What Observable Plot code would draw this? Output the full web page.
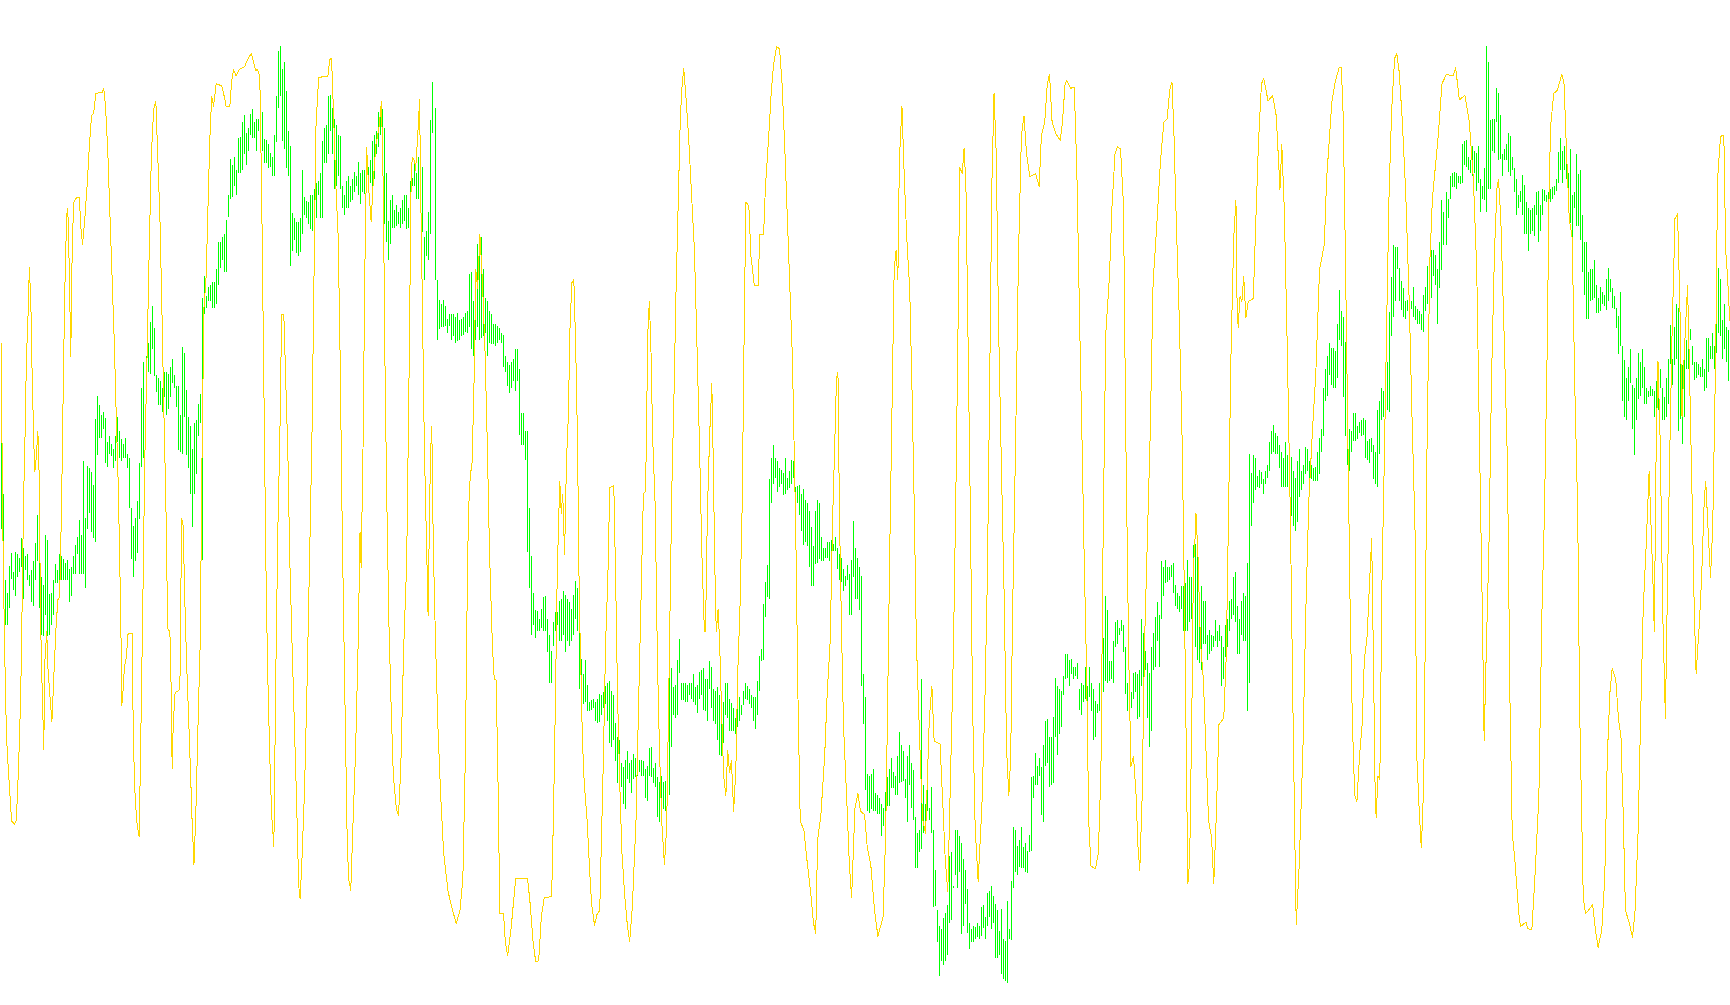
<!DOCTYPE html>
<html><head><meta charset="utf-8">
<style>html,body{margin:0;padding:0;background:#fff}svg{display:block}</style>
<script src="https://cdn.jsdelivr.net/npm/d3@7"></script>
<script src="https://cdn.jsdelivr.net/npm/@observablehq/plot@0.6"></script>
</head><body><div id="chart"></div>
<script>
// Values, in an arbitrary "depth" unit (0 top .. 1568 bottom).
const barsA=[[620,825],[770,940],[905,975],[925,975],[883,948],[863,903],[893,920],[862,930],[865,900],[870,893],[840,885],[855,935],[868,890],[865,905],[897,915],[890,940],[875,945],[847,905],[803,875],[855,948],[900,990],[913,993],[835,960],[842,993],[927,990],[925,975],[905,960],[880,910],[890,910],[865,910],[868,905],[872,905],[878,905],[873,905],[888,940],[885,930],[868,895],[850,895],[838,865],[812,895],[835,895],[720,895],[808,917],[727,825],[730,800],[737,830],[757,840],[653,845],[618,710],[632,683],[648,683],[643,670],[652,722],[690,728],[680,708],[692,712],[700,730],[680,720],[650,690],[672,715],[685,720],[692,715],[683,715],[708,730],[715,793],[793,872],[820,900],[808,875],[782,863],[722,810],[605,728],[565,715],[555,620],[535,580],[503,583],[478,545],[512,587],[585,612],[590,632],[595,632],[605,643],[580,620],[580,648],[583,638],[573,620],[560,598],[585,605],[603,635],[603,702],[647,705],[542,708],[550,650],[608,710],[650,730],[665,770],[700,823],[660,770],[655,740],[630,680],[615,660],[465,873],[430,490],[462,480],[448,470],[445,470],[440,480],[440,480],[420,475],[378,445],[378,418],[370,405],[365,425],[343,425],[305,338],[248,310],[257,307],[245,290],[265,305],[215,270],[213,270],[190,265],[180,240],[208,258],[200,235],[178,210],[170,215],[190,215],[185,235],[185,205],[183,200],[175,235],[217,255],[218,255],[225,262],[238,260],[245,275],[210,275],[150,222],[80,168],[72,150],[108,220],[97,233],[142,262],[205,275],[228,415],[332,392],[340,375],[347,395],[347,400],[340,393],[265,365],[307,335],[313,340],[315,350],[305,357],[305,360],[295,370],[285,340],[283,305],[270,340],[220,340],[200,255],[195,255],[150,240],[148,205],[168,240],[185,295],[195,290],[210,275],[212,295],[290,325],[305,335],[283,325],[275,325],[290,315],[280,312],[268,300],[275,290],[253,305],[270,318],[265,300],[265,302],[230,290],[260,300],[250,285],[220,300],[210,280],[205,240],[175,230],[165,210],[170,240],[200,350],[270,378],[345,405],[312,380],[305,355],[328,355],[320,352],[330,350],[325,355],[312,350],[305,345],[305,358],[325,355],[282,350],[278,290],[250,290],[270,310],[245,310],[247,320],[260,362],[370,437],[360,400],[330,405],[188,365],[128,208],[168,437],[437,530],[468,513],[475,510],[468,510],[478,508],[497,520],[490,508],[490,530],[490,525],[495,535],[488,532],[500,530],[498,525],[495,522],[488,518],[485,520],[427,510],[425,545],[470,555],[440,530],[380,510],[378,530],[370,528],[420,525],[465,520],[470,555],[485,535],[490,537],[505,537],[505,540],[508,535],[512,530],[520,535],[523,573],[555,580],[565,603],[570,613],[565,605],[560,595],[545,610],[545,595],[575,678],[645,695],[645,695],[672,718],[672,862],[793,917],[867,990],[925,975],[952,995],[953,985],[965,985],[950,980],[932,985],[930,985],[965,1018],[990,1065],[1015,1065],[970,1008],[955,985],[955,975],[938,1000],[935,1000],[922,990],[928,1018],[935,1000],[940,1008],[950,1000],[928,990],[907,965],[918,985],[938,1075]];
const barsB=[[1028,1078],[1052,1098],[1030,1095],[1068,1110],[1095,1110],[1092,1108],[1090,1105],[1095,1125],[1090,1128],[1083,1127],[1085,1115],[1080,1105],[1070,1098],[1065,1125],[1062,1160],[1078,1165],[1085,1155],[1128,1188],[1150,1222],[1155,1222],[1190,1228],[1197,1255],[1185,1262],[1172,1215],[1190,1222],[1185,1237],[1177,1215],[1182,1212],[1190,1210],[1185,1205],[1185,1210],[1188,1210],[1200,1245],[1195,1250],[1167,1210],[1165,1212],[1198,1222],[1190,1228],[1212,1275],[1220,1283],[1210,1268],[1220,1262],[1218,1265],[1195,1240],[1055,1240],[1042,1165],[1072,1115],[1068,1120],[1030,1115],[997,1050],[1065,1092],[1065,1092],[1065,1095],[1068,1095],[1065,1085],[1065,1090],[1052,1095],[1072,1100],[1068,1112],[1048,1090],[1045,1085],[1042,1108],[1060,1110],[1060,1125],[1032,1075],[1040,1105],[1075,1125],[1078,1130],[1072,1155],[1085,1178],[1130,1180],[1095,1160],[1065,1115],[1065,1120],[1090,1140],[1097,1140],[1105,1140],[1120,1145],[1100,1135],[1088,1125],[1100,1115],[1078,1100],[1065,1090],[1070,1092],[1075,1098],[1085,1105],[1088,1125],[1088,1138],[1062,1115],[1023,1078],[1012,1032],[942,1030],[908,963],[882,932],[748,935],[715,785],[695,755],[715,745],[720,768],[730,760],[733,755],[738,772],[715,770],[745,765],[735,762],[718,755],[720,745],[760,830],[758,785],[757,803],[770,828],[763,850],[780,845],[785,852],[797,885],[822,915],[852,915],[798,880],[780,878],[785,872],[838,875],[855,875],[855,870],[845,870],[845,875],[842,870],[848,860],[838,860],[855,888],[865,905],[870,908],[888,922],[898,915],[882,905],[895,960],[873,960],[813,900],[855,935],[870,935],[885,952],[898,1070],[1052,1130],[1088,1232],[1208,1265],[1210,1268],[1208,1262],[1200,1265],[1238,1265],[1240,1270],[1245,1270],[1255,1305],[1260,1288],[1235,1280],[1212,1258],[1200,1258],[1182,1230],[1205,1230],[1210,1240],[1180,1240],[1142,1222],[1163,1220],[1172,1218],[1215,1245],[1180,1282],[1162,1225],[1190,1260],[1202,1280],[1275,1355],[1300,1355],[1295,1330],[1060,1325],[1225,1300],[1255,1295],[1218,1265],[1260,1280],[1228,1300],[1295,1415],[1357,1413],[1420,1470],[1445,1522],[1450,1500],[1432,1505],[1425,1500],[1412,1490],[1335,1440],[1330,1435],[1382,1385],[1295,1365],[1295,1385],[1305,1360],[1315,1458],[1340,1445],[1357,1410],[1387,1455],[1440,1480],[1450,1470],[1445,1470],[1447,1465],[1440,1462],[1445,1465],[1415,1460],[1412,1448],[1430,1465],[1393,1445],[1390,1430],[1382,1450],[1398,1440],[1410,1495],[1420,1495],[1452,1490],[1418,1520],[1465,1527],[1468,1530],[1405,1533],[1450,1465],[1375,1467],[1290,1385],[1295,1360],[1320,1365],[1310,1352],[1290,1355],[1322,1355],[1315,1360],[1328,1362],[1302,1330],[1212,1328],[1210,1245],[1175,1225],[1195,1225],[1183,1210],[1197,1272],[1162,1282],[1125,1195],[1122,1190],[1150,1228],[1150,1225],[1118,1222],[1058,1150],[1070,1178],[1075,1145],[1078,1135],[1055,1085],[1020,1060],[1020,1058],[1030,1070],[1028,1052],[1040,1060],[1040,1055],[1035,1060],[1075,1108],[1065,1115],[1068,1095],[1040,1090],[1070,1095],[1040,1088],[1065,1110],[1075,1155],[1093,1150],[1098,1112],[1065,1110],[1090,1110],[995,1080],[930,1062],[952,1065],[1032,1062],[1032,1060],[1000,1065],[970,1010],[968,1005],[980,990],[968,985],[975,1018],[1010,1082],[1065,1110],[1095,1118],[1080,1105],[1050,1090],[1048,1080],[1052,1122],[1045,1118],[965,1070],[988,1060],[1015,1045],[1035,1120],[1050,1165],[1010,1140],[988,1045],[962,1040],[940,1000],[960,1040]];
const barsC=[[875,965],[885,930],[873,910],[885,908],[885,905],[882,900],[878,925],[913,945],[925,950],[930,955],[915,950],[915,985],[910,985],[873,985],[900,970],[900,965],[850,890],[848,1010],[865,1030],[960,1035],[915,1045],[938,1005],[938,1005],[990,1030],[983,1020],[990,1015],[992,1010],[968,1000],[985,1010],[975,1000],[992,1070],[1010,1060],[975,1025],[965,1010],[938,985],[935,965],[900,960],[893,970],[945,1020],[965,1020],[938,990],[925,1000],[930,1000],[878,1110],[708,1065],[738,820],[710,785],[715,765],[742,760],[733,762],[737,755],[747,770],[735,755],[725,745],[690,735],[673,708],[663,705],[675,708],[680,708],[695,730],[705,760],[715,760],[690,760],[710,760],[708,775],[713,805],[735,820],[745,828],[720,815],[700,775],[735,765],[725,755],[697,740],[700,735],[720,745],[725,748],[730,750],[728,750],[705,750],[683,740],[670,705],[605,680],[575,625],[555,618],[535,585],[543,600],[543,605],[548,605],[505,590],[452,530],[485,540],[495,620],[533,680],[660,725],[670,735],[672,705],[645,688],[645,688],[665,685],[658,675],[655,680],[652,678],[655,715],[688,718],[685,722],[683,705],[695,748],[705,755],[640,760],[625,708],[605,655],[610,650],[590,640],[565,640],[487,643],[432,525],[382,495],[385,470],[385,420],[418,470],[438,483],[450,495],[470,497],[468,485],[472,482],[470,482],[448,495],[477,500],[482,505],[485,505],[490,515],[460,518],[448,485],[415,475],[418,470],[390,465],[390,430],[398,445],[420,505],[378,450],[312,422],[330,383],[300,383],[310,340],[275,310],[270,292],[268,292],[270,295],[275,285],[275,287],[225,285],[220,258],[218,260],[245,265],[250,270],[228,275],[235,270],[238,298],[228,285],[280,330],[290,310],[262,312],[72,330],[97,295],[188,295],[185,235],[185,238],[138,190],[145,250],[180,248],[240,275],[232,250],[225,250],[208,268],[212,275],[245,265],[262,300],[280,335],[305,325],[298,315],[273,335],[288,365],[315,365],[325,392],[328,365],[325,360],[320,368],[300,335],[298,378],[320,360],[295,335],[297,313],[305,315],[300,320],[295,315],[292,310],[290,305],[280,298],[237,285],[215,265],[235,285],[228,265],[230,280],[270,302],[232,348],[305,370],[300,325],[240,352],[272,352],[265,375],[335,425],[378,460],[377,498],[425,498],[420,470],[420,468],[405,465],[445,488],[465,488],[448,485],[455,475],[460,478],[435,483],[418,470],[435,455],[450,480],[462,482],[480,512],[493,553],[455,540],[540,625],[562,650],[590,655],[572,625],[545,598],[600,670],[605,710],[590,655],[550,622],[565,618],[545,605],[573,630],[605,630],[610,620],[602,618],[607,618],[610,650],[595,640],[575,640],[575,605],[605,655],[620,655],[590,650],[560,630],[507,568],[560,600],[510,570],[475,560],[480,672],[515,653],[570,692],[560,650],[530,575],[487,575],[513,530],[540,570],[565,593],[565,590],[568,585],[572,588],[560,588],[575,610],[527,605],[527,580],[540,560],[520,560],[540,575],[492,550],[418,520],[435,525],[500,560],[475,545],[510,565],[515,595]];
const lineA=[[2,535],[5,760],[8,900],[11,1000],[14,1100],[18,1170],[24,1225],[30,1280],[38,1285],[42,1280],[46,1240],[52,1140],[56,1040],[60,880],[62,790],[66,690],[70,560],[74,500],[78,417],[82,470],[85,570],[90,690],[93,735],[97,710],[101,672],[105,750],[108,960],[112,1060],[117,1168],[120,1030],[125,985],[128,1040],[133,1080],[139,1125],[146,1030],[150,980],[155,935],[160,930],[165,790],[171,550],[175,420],[179,335],[182,325],[186,420],[190,555],[194,380],[198,315],[205,308],[213,308],[218,360],[222,380],[228,340],[234,290],[240,230],[246,180],[252,175],[258,145],[275,143],[279,137],[284,165],[290,235],[295,320],[301,420],[308,540],[313,650],[318,750],[322,860],[326,1000],[328,1100],[331,1080],[335,1040],[340,1025],[345,987],[356,987],[358,1100],[362,1220],[368,1280],[375,1305],[379,1160],[385,930],[390,720],[396,560],[402,390],[408,240],[414,170],[420,157],[425,240],[431,340],[436,470],[442,650],[447,780],[452,980],[458,985],[462,1090],[464,1198],[467,1130],[472,1080],[485,1075],[487,950],[490,808],[494,820],[498,930],[503,1030],[508,1110],[514,1210],[518,1280],[523,1348],[528,1270],[534,1130],[540,1000],[545,700],[550,480],[556,430],[562,300],[566,215],[571,150],[576,165],[583,130],[598,133],[605,150],[610,165],[620,165],[625,125],[630,108],[637,118],[645,108],[660,103],[670,90],[678,83],[684,95],[690,110],[695,107],[701,120],[706,300],[710,500],[714,700],[717,860],[722,1040],[728,1180],[733,1270],[739,1320],[745,1020],[750,820],[755,690],[760,490],[766,490],[771,590],[777,710],[782,870],[788,1000],[795,1140],[801,1260],[806,1380],[810,1402],[815,1340],[822,1230],[829,1060],[836,860],[842,680],[848,410],[853,195],[860,120],[885,118],[890,92],[895,90],[900,170],[906,280],[913,370],[918,550],[924,830],[930,1050],[937,1300],[941,1370],[947,1388],[952,1300],[960,1170],[967,1000],[972,830],[975,885],[980,700],[985,420],[990,230],[995,290],[1002,345],[1008,280],[1015,225],[1024,195],[1030,157],[1035,300],[1040,600],[1045,800],[1050,970],[1056,1100],[1062,1210],[1070,1260],[1076,1272],[1082,1200],[1090,1010],[1098,880],[1104,610],[1110,290],[1113,245],[1120,250],[1122,265],[1128,210],[1133,155],[1136,300],[1141,490],[1146,700],[1153,880],[1156,960],[1160,790],[1163,700],[1166,665],[1170,850],[1176,1000],[1183,1140],[1190,1240],[1198,1330],[1210,1390],[1220,1415],[1232,1440],[1242,1420],[1250,1370],[1257,1170],[1261,960],[1265,800],[1270,742],[1275,720],[1280,600],[1285,420],[1290,450],[1296,365],[1303,440],[1310,550],[1316,690],[1322,860],[1330,1010],[1335,1060],[1340,1060],[1345,1220],[1350,1425],[1360,1425],[1365,1470],[1371,1490],[1380,1450],[1388,1400],[1393,1370],[1425,1370],[1432,1410],[1440,1470],[1447,1500],[1455,1498],[1462,1430],[1470,1400],[1490,1398],[1495,1270],[1500,1100],[1505,900],[1509,810],[1512,750],[1516,800],[1520,770],[1525,865],[1530,720],[1535,650],[1540,500],[1545,440],[1550,435],[1555,540],[1560,690],[1565,950]];
const lineB=[[0,1015],[5,1150],[10,1220],[18,1280],[24,1350],[30,1410],[38,1443],[45,1425],[52,1420],[57,1300],[62,1180],[68,1000],[74,900],[79,760],[90,757],[95,900],[100,1080],[106,1220],[112,1330],[120,1400],[127,1445],[133,1468],[140,1415],[150,1280],[157,1100],[163,950],[170,770],[176,765],[182,520],[186,470],[190,530],[195,680],[202,790],[208,1030],[214,1180],[220,1285],[227,1348],[233,1290],[240,1030],[247,760],[253,610],[258,460],[264,320],[270,180],[275,130],[279,106],[285,150],[292,210],[300,300],[308,390],[315,540],[322,700],[328,860],[335,985],[338,985],[343,800],[349,680],[355,598],[359,720],[363,880],[367,985],[372,950],[376,1000],[381,1100],[387,1210],[393,1240],[398,1170],[403,1205],[408,1185],[414,1265],[420,1200],[425,1050],[431,950],[437,790],[442,540],[447,315],[455,320],[461,400],[470,445],[480,445],[485,365],[495,365],[500,290],[508,220],[516,140],[522,100],[530,72],[538,75],[545,130],[553,240],[563,400],[573,560],[582,830],[588,1090],[594,1280],[604,1295],[612,1340],[622,1390],[630,1440],[636,1455],[641,1310],[650,1270],[660,1180],[667,1080],[675,1000],[682,800],[687,700],[692,590],[696,580],[700,800],[705,960],[711,1130],[720,1250],[727,1350],[733,1400],[738,1320],[742,1260],[750,1237],[757,1265],[768,1270],[775,1320],[785,1350],[795,1420],[804,1460],[818,1430],[825,1300],[830,1110],[836,860],[842,640],[848,420],[853,390],[858,435],[862,250],[869,165],[875,270],[882,370],[890,450],[896,600],[902,780],[908,1000],[915,1120],[922,1240],[926,1280],[933,1300],[938,1210],[943,1120],[950,1070],[956,1155],[972,1160],[980,1260],[986,1340],[993,1390],[1000,1220],[1008,1020],[1015,760],[1022,450],[1025,260],[1032,270],[1037,230],[1042,290],[1048,540],[1054,800],[1060,1100],[1067,1290],[1075,1375],[1085,1260],[1093,1100],[1100,900],[1106,610],[1112,290],[1118,145],[1124,240],[1130,500],[1138,730],[1145,920],[1152,1170],[1158,1240],[1163,1180],[1168,960],[1176,700],[1184,400],[1192,210],[1199,180],[1206,240],[1215,275],[1230,270],[1240,290],[1246,210],[1255,190],[1262,130],[1268,115],[1275,190],[1285,208],[1297,218],[1303,190],[1310,130],[1315,125],[1325,137],[1335,135],[1342,270],[1350,520],[1356,690],[1362,880],[1368,1040],[1374,1280],[1380,1350],[1392,1355],[1400,1330],[1407,1200],[1413,830],[1420,520],[1430,430],[1437,320],[1445,240],[1452,228],[1460,232],[1468,320],[1474,670],[1482,1020],[1488,1195],[1495,1180],[1502,1240],[1507,1320],[1512,1357],[1518,1250],[1525,1000],[1533,830],[1540,680],[1548,440],[1558,350]];
const lineC=[[27,250],[36,190],[45,185],[52,140],[58,127],[63,200],[70,350],[78,500],[85,670],[90,860],[96,1135],[101,1378],[106,1340],[112,1100],[116,880],[119,860],[123,800],[128,860],[135,1000],[143,1060],[150,1170],[157,1280],[165,1305],[171,1378],[178,1270],[185,1130],[198,1120],[205,1020],[212,760],[218,540],[225,370],[231,312],[234,470],[237,510],[242,462],[247,470],[252,430],[258,495],[264,470],[278,465],[285,340],[292,220],[300,130],[306,122],[318,157],[330,148],[340,180],[347,260],[350,295],[355,225],[362,330],[370,550],[378,800],[385,1100],[390,1300],[394,1442],[402,1350],[412,1170],[420,950],[428,780],[438,670],[447,580],[457,420],[470,380],[476,280],[490,160],[500,125],[510,105],[516,105],[521,180],[527,400],[534,700],[540,960],[546,1130],[552,1240],[558,1250],[565,1180],[572,1130],[578,1030],[586,990],[592,910],[598,840],[603,1040],[607,1220],[610,1275],[615,1210],[620,1215],[626,900],[632,720],[638,520],[645,300],[652,170],[660,90],[666,83],[672,110],[680,180],[690,300],[700,480],[707,650],[715,820],[720,1180],[727,1270],[732,1322],[736,1270],[740,1170],[747,720],[755,410],[762,310],[770,260],[778,210],[788,130],[800,115],[818,118],[825,105],[835,155],[850,148],[862,190],[873,280],[882,420],[890,710],[897,950],[902,1155],[908,1010],[915,850],[922,590],[930,390],[937,290],[941,280],[947,340],[955,500],[965,720],[972,1100],[978,1300],[985,1340],[995,1420],[1000,1445],[1015,1438],[1020,1448],[1031,1450],[1040,1360],[1050,1240],[1058,960],[1065,800],[1072,560],[1078,280],[1082,195],[1090,145],[1100,140],[1112,115],[1118,130],[1125,240],[1132,340],[1140,370],[1147,600],[1155,800],[1160,1100],[1170,1400],[1176,1425],[1190,1415],[1195,1410],[1203,1450],[1210,1478],[1220,1450],[1228,1370],[1235,1180],[1242,1080],[1248,1042],[1258,1060],[1265,1120],[1272,1150],[1278,1270],[1284,1420],[1295,1440],[1303,1462],[1310,1420],[1318,1300],[1325,1120],[1332,950],[1340,850],[1348,735],[1352,800],[1358,900],[1362,985],[1367,700],[1372,563],[1378,690],[1385,960],[1392,1120],[1398,900],[1404,700],[1410,520],[1418,340],[1425,333],[1431,470],[1437,650],[1443,550],[1452,445],[1458,600],[1465,800],[1470,950],[1475,1050],[1483,980],[1490,900],[1497,780],[1501,750],[1507,820],[1514,900],[1520,820],[1528,550],[1533,280],[1541,212],[1550,210],[1555,390],[1560,430],[1566,500]];

// Each reading panel covers 1568 horizontal units; these are the panels' starting times.
const panelStart={A:0,B:580,C:1150};
const unit=580/1568;
function spread(list,from,to){return list.map(([a,b],i)=>({t:from+(to-from)*i/(list.length-1),a,b}));}
const bars=[...spread(barsA,1,579),...spread(barsB,581,1159),...spread(barsC,1161,1728)];
const line=[
  ...lineA.map(([x,v])=>({t:panelStart.A+x*unit,v})),
  ...lineB.map(([x,v])=>({t:panelStart.B+x*unit,v})),
  ...lineC.map(([x,v])=>({t:panelStart.C+x*unit,v}))
];
const plot=Plot.plot({
  width:1730,height:1005,margin:0,
  x:{domain:[0,1730],axis:null},
  y:{domain:[1568,0],axis:null,range:[1005,0]},
  style:{background:"#fff"},
  marks:[
    Plot.ruleX(bars,{x:"t",y1:"a",y2:"b",stroke:"#00ff00",strokeWidth:1,shapeRendering:"crispEdges"}),
    Plot.line(line,{x:"t",y:"v",stroke:"#ffd700",strokeWidth:1,shapeRendering:"crispEdges"})
  ]
});
document.getElementById("chart").append(plot);
</script></body></html>
